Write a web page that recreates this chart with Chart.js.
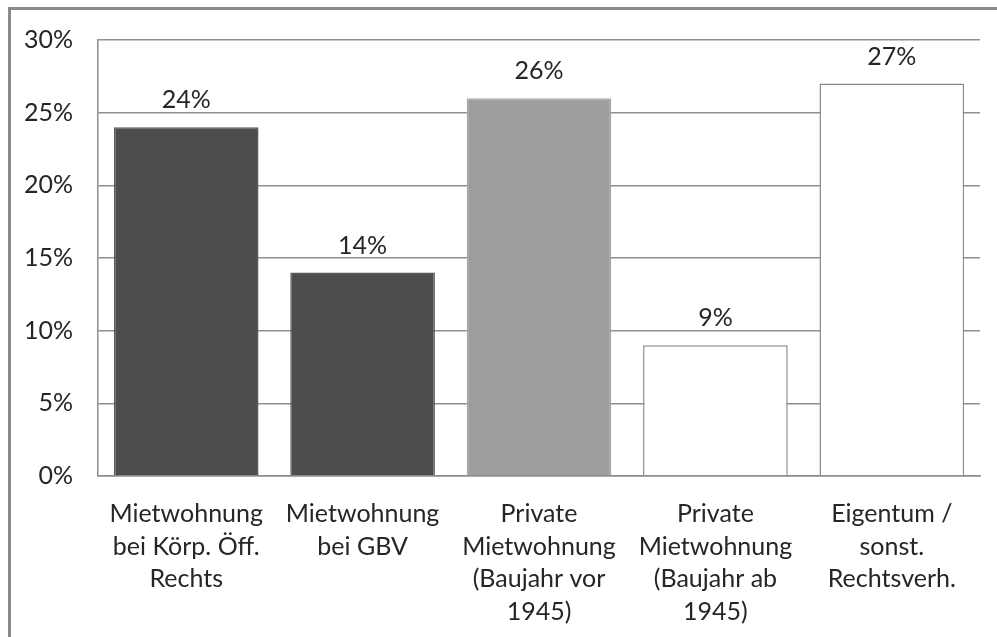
<!DOCTYPE html>
<html>
<head>
<meta charset="utf-8">
<script src="https://cdn.jsdelivr.net/npm/chart.js@4/dist/chart.umd.min.js"></script>
<style>
    html, body {
        margin: 0;
        padding: 0;
        width: 997px;
        height: 637px;
        overflow: hidden;
        background: #ffffff;
    }
    #rahmen {
        position: absolute;
        left: 8px;
        top: 7px;
        width: 1100px;
        height: 800px;
        border: 3px solid #8a8a8a;
        box-sizing: border-box;
    }
    #wrap {
        position: absolute;
        left: 0;
        top: 0;
        width: 997px;
        height: 637px;
    }
</style>
</head>
<body>
<div id="rahmen"></div>
<div id="wrap"><canvas id="chart"></canvas></div>
<script>
// Wohnungsarten und Anteile in Prozent
const kategorien = [
    ['Mietwohnung', 'bei Körp. Öff.', 'Rechts'],
    ['Mietwohnung', 'bei GBV'],
    ['Private', 'Mietwohnung', '(Baujahr vor', '1945)'],
    ['Private', 'Mietwohnung', '(Baujahr ab', '1945)'],
    ['Eigentum /', 'sonst.', 'Rechtsverh.']
];
const anteile = [24, 14, 26, 9, 27];
const yTicks = [0, 5, 10, 15, 20, 25, 30];

const fuellung = ['#4d4d4d', '#4d4d4d', '#9e9e9e', '#ffffff', '#ffffff'];
const rand = ['#5a5a5a', '#5a5a5a', '#a8a8a8', '#8c8c8c', '#8c8c8c'];

const schrift = 'Lato, "Open Sans", sans-serif';
const textFarbe = '#262626';

// Werte über die Balken schreiben
const wertBeschriftung = {
    id: 'wertBeschriftung',
    afterDatasetsDraw(chart) {
        const ctx = chart.ctx;
        const meta = chart.getDatasetMeta(0);
        ctx.save();
        ctx.font = '25px ' + schrift;
        ctx.fillStyle = textFarbe;
        ctx.textAlign = 'center';
        ctx.textBaseline = 'alphabetic';
        meta.data.forEach((bar, i) => {
            ctx.fillText(Math.round(anteile[i]) + '%', bar.x, bar.y - 19);
        });
        ctx.restore();
    }
};

const ctx = document.getElementById('chart').getContext('2d');
const chart = new Chart(ctx, {
    type: 'bar',
    data: {
        labels: kategorien,
        datasets: [{
            data: anteile,
            backgroundColor: fuellung,
            borderColor: rand,
            borderWidth: 1.5,
            barPercentage: 0.82,
            categoryPercentage: 1.0
        }]
    },
    options: {
        responsive: true,
        maintainAspectRatio: false,
        animation: false,
        layout: {
            padding: { left: 0, top: 38, right: 17, bottom: 0 }
        },
        plugins: {
            legend: { display: false },
            tooltip: { enabled: false }
        },
        scales: {
            x: {
                grid: { display: false, drawTicks: false },
                border: { display: true, color: '#8c8c8c', width: 1.5 },
                ticks: {
                    color: textFarbe,
                    font: { family: schrift, size: 25, lineHeight: 1.3 },
                    padding: 22,
                    maxRotation: 0,
                    autoSkip: false
                },
                afterFit(scale) {
                    scale.height = 161;
                }
            },
            y: {
                min: 0,
                max: 30,
                afterBuildTicks(scale) {
                    scale.ticks = yTicks.map(v => ({ value: v }));
                },
                grid: { color: '#8f8f8f', lineWidth: 1.5, drawTicks: false },
                border: { display: true, color: '#8c8c8c', width: 1.5 },
                ticks: {
                    color: textFarbe,
                    font: { family: schrift, size: 25 },
                    padding: 25,
                    callback: v => v + '%'
                },
                afterFit(scale) {
                    scale.width = 98;
                }
            }
        }
    },
    plugins: [wertBeschriftung]
});
</script>
</body>
</html>
